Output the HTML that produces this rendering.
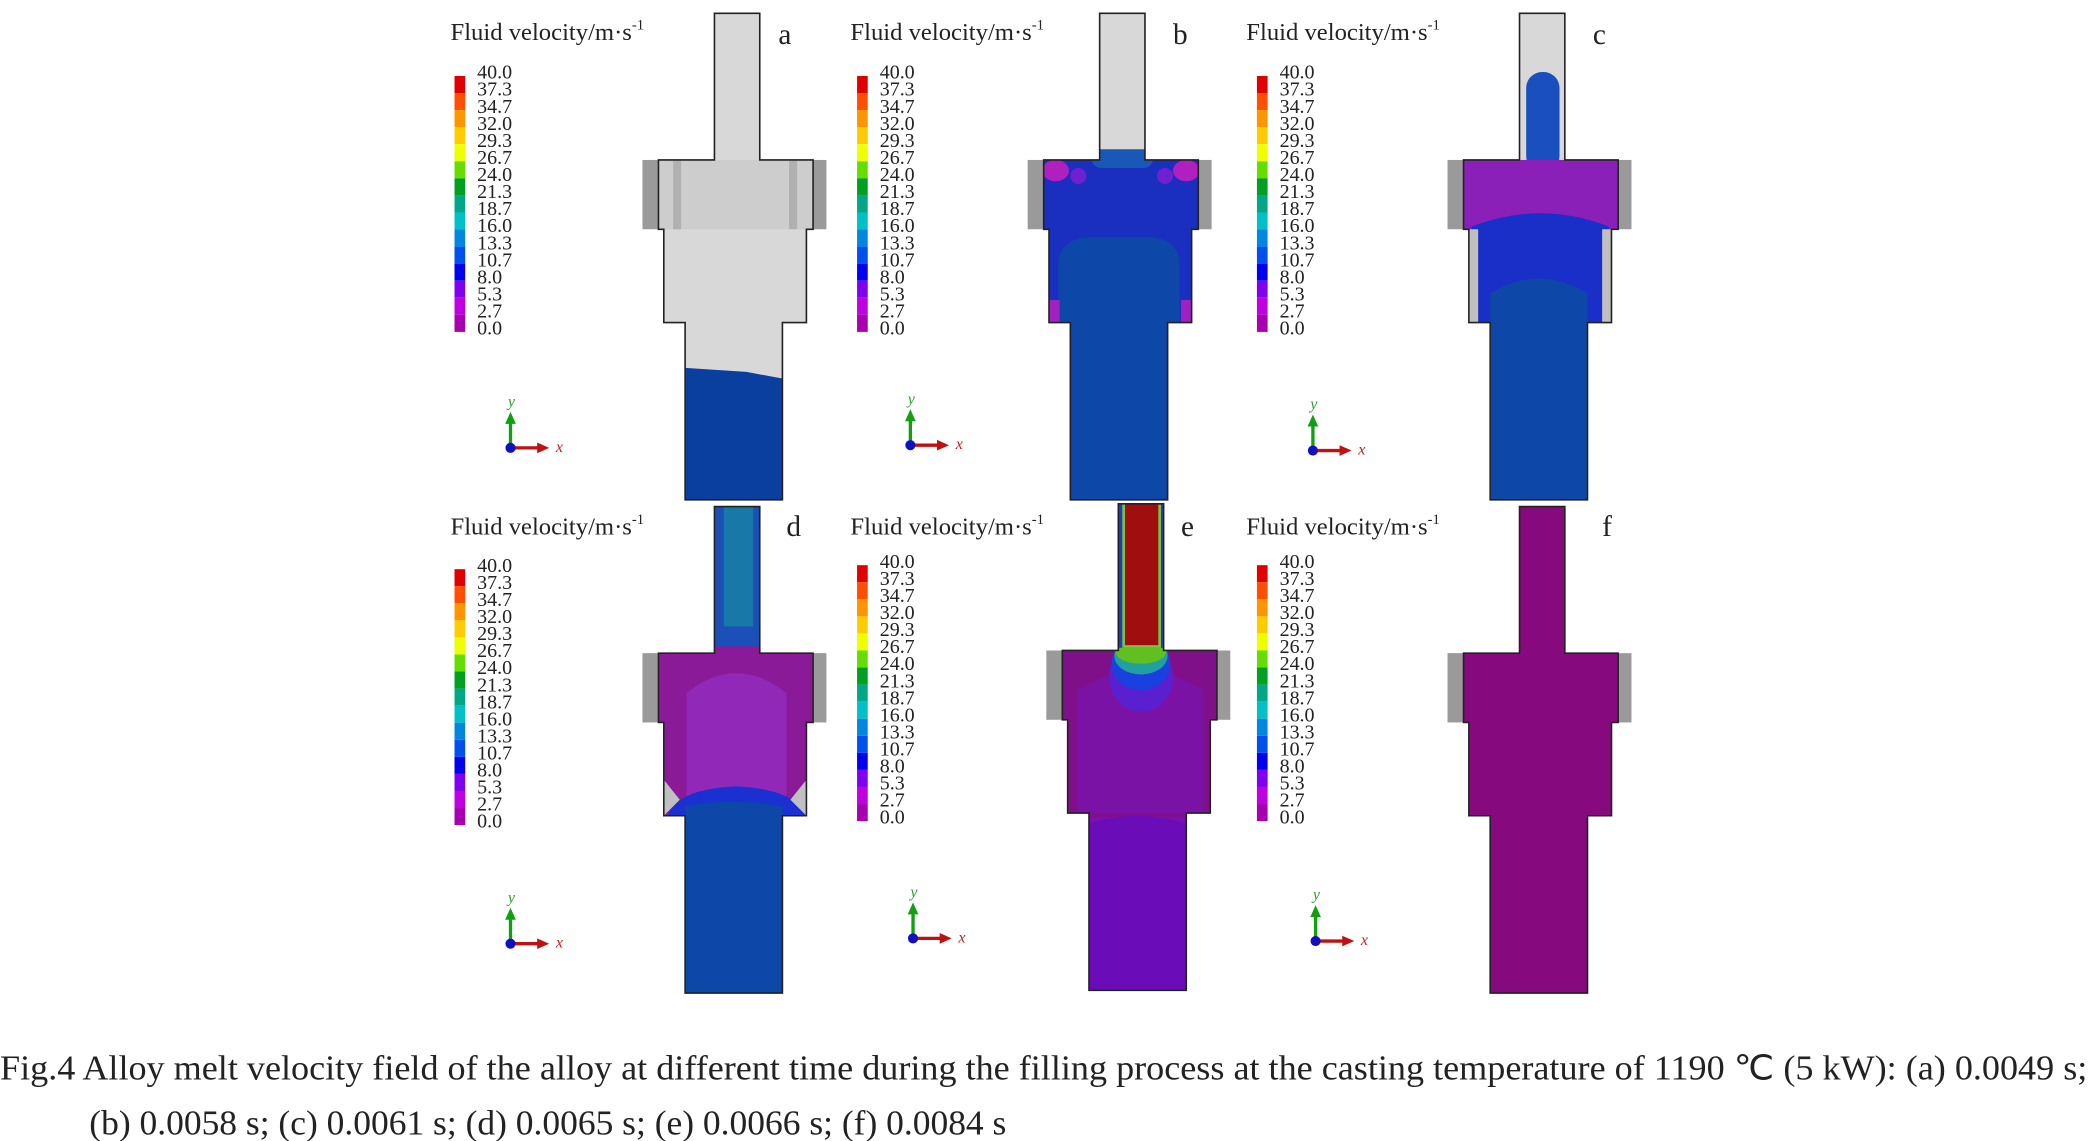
<!DOCTYPE html>
<html><head><meta charset="utf-8"><style>
html,body{margin:0;padding:0;background:#fff;}
svg{display:block;}
text{font-family:"Liberation Serif",serif;fill:#222;}
</style></head><body>
<svg width="2090" height="1141" viewBox="0 0 1568 856" preserveAspectRatio="none" xmlns="http://www.w3.org/2000/svg">
<defs>
<path id="body" d="M536 10 H570 V120 H610 V172 H605 V242 H587 V375 H514 V242 H498 V172 H494 V120 H536 Z"/>
<clipPath id="cl"><use href="#body"/></clipPath>
<g id="cbar">
<rect x="0" y="0" width="8" height="12.8" fill="#e00000"/>
<rect x="0" y="12.8" width="8" height="12.8" fill="#ff5000"/>
<rect x="0" y="25.6" width="8" height="12.8" fill="#ff9500"/>
<rect x="0" y="38.4" width="8" height="12.8" fill="#ffcc00"/>
<rect x="0" y="51.2" width="8" height="12.8" fill="#eeff00"/>
<rect x="0" y="64" width="8" height="12.8" fill="#66dd00"/>
<rect x="0" y="76.8" width="8" height="12.8" fill="#00a020"/>
<rect x="0" y="89.6" width="8" height="12.8" fill="#00a888"/>
<rect x="0" y="102.4" width="8" height="12.8" fill="#00c0c8"/>
<rect x="0" y="115.2" width="8" height="12.8" fill="#0088e0"/>
<rect x="0" y="128" width="8" height="12.8" fill="#0050f0"/>
<rect x="0" y="140.8" width="8" height="12.8" fill="#0000f0"/>
<rect x="0" y="153.6" width="8" height="12.8" fill="#8000f0"/>
<rect x="0" y="166.4" width="8" height="12.8" fill="#c000e0"/>
<rect x="0" y="179.2" width="8" height="12.8" fill="#a800b0"/>
</g>
<g id="axes">
<line x1="0" y1="0" x2="0" y2="-20" stroke="#10a010" stroke-width="2.5"/>
<polygon points="-4,-18 4,-18 0,-27" fill="#10a010"/>
<line x1="0" y1="0" x2="22" y2="0" stroke="#c01010" stroke-width="2.5"/>
<polygon points="20,-4 20,4 29,0" fill="#c01010"/>
<circle cx="0" cy="0" r="3.8" fill="#1010c0"/>
<text x="-2" y="-31" style="font-style:italic;font-size:12px;fill:#30a030">y</text>
<text x="34" y="3" style="font-style:italic;font-size:12px;fill:#c02020">x</text>
</g>
<g id="flanges">
<rect x="482" y="120" width="12" height="52" fill="#9a9a9a"/>
<rect x="610" y="120" width="10" height="52" fill="#9a9a9a"/>
</g>
</defs>

<!-- Legends -->
<g font-size="18.5">
<text x="338" y="30">Fluid velocity/m·s<tspan dy="-8" font-size="11">-1</tspan></text>
<text x="638" y="30">Fluid velocity/m·s<tspan dy="-8" font-size="11">-1</tspan></text>
<text x="935" y="30">Fluid velocity/m·s<tspan dy="-8" font-size="11">-1</tspan></text>
<text x="338" y="401">Fluid velocity/m·s<tspan dy="-8" font-size="11">-1</tspan></text>
<text x="638" y="401">Fluid velocity/m·s<tspan dy="-8" font-size="11">-1</tspan></text>
<text x="935" y="401">Fluid velocity/m·s<tspan dy="-8" font-size="11">-1</tspan></text>
</g>
<use href="#cbar" x="341" y="57"/>
<use href="#cbar" x="643" y="57"/>
<use href="#cbar" x="943" y="57"/>
<use href="#cbar" x="341" y="427"/>
<use href="#cbar" x="643" y="424"/>
<use href="#cbar" x="943" y="424"/>
<g font-size="15">
<text x="358" y="59"><tspan x="358">40.0</tspan><tspan x="358" dy="12.8">37.3</tspan><tspan x="358" dy="12.8">34.7</tspan><tspan x="358" dy="12.8">32.0</tspan><tspan x="358" dy="12.8">29.3</tspan><tspan x="358" dy="12.8">26.7</tspan><tspan x="358" dy="12.8">24.0</tspan><tspan x="358" dy="12.8">21.3</tspan><tspan x="358" dy="12.8">18.7</tspan><tspan x="358" dy="12.8">16.0</tspan><tspan x="358" dy="12.8">13.3</tspan><tspan x="358" dy="12.8">10.7</tspan><tspan x="358" dy="12.8">8.0</tspan><tspan x="358" dy="12.8">5.3</tspan><tspan x="358" dy="12.8">2.7</tspan><tspan x="358" dy="12.8">0.0</tspan></text>
<text x="660" y="59"><tspan x="660">40.0</tspan><tspan x="660" dy="12.8">37.3</tspan><tspan x="660" dy="12.8">34.7</tspan><tspan x="660" dy="12.8">32.0</tspan><tspan x="660" dy="12.8">29.3</tspan><tspan x="660" dy="12.8">26.7</tspan><tspan x="660" dy="12.8">24.0</tspan><tspan x="660" dy="12.8">21.3</tspan><tspan x="660" dy="12.8">18.7</tspan><tspan x="660" dy="12.8">16.0</tspan><tspan x="660" dy="12.8">13.3</tspan><tspan x="660" dy="12.8">10.7</tspan><tspan x="660" dy="12.8">8.0</tspan><tspan x="660" dy="12.8">5.3</tspan><tspan x="660" dy="12.8">2.7</tspan><tspan x="660" dy="12.8">0.0</tspan></text>
<text x="960" y="59"><tspan x="960">40.0</tspan><tspan x="960" dy="12.8">37.3</tspan><tspan x="960" dy="12.8">34.7</tspan><tspan x="960" dy="12.8">32.0</tspan><tspan x="960" dy="12.8">29.3</tspan><tspan x="960" dy="12.8">26.7</tspan><tspan x="960" dy="12.8">24.0</tspan><tspan x="960" dy="12.8">21.3</tspan><tspan x="960" dy="12.8">18.7</tspan><tspan x="960" dy="12.8">16.0</tspan><tspan x="960" dy="12.8">13.3</tspan><tspan x="960" dy="12.8">10.7</tspan><tspan x="960" dy="12.8">8.0</tspan><tspan x="960" dy="12.8">5.3</tspan><tspan x="960" dy="12.8">2.7</tspan><tspan x="960" dy="12.8">0.0</tspan></text>
<text x="358" y="429"><tspan x="358">40.0</tspan><tspan x="358" dy="12.8">37.3</tspan><tspan x="358" dy="12.8">34.7</tspan><tspan x="358" dy="12.8">32.0</tspan><tspan x="358" dy="12.8">29.3</tspan><tspan x="358" dy="12.8">26.7</tspan><tspan x="358" dy="12.8">24.0</tspan><tspan x="358" dy="12.8">21.3</tspan><tspan x="358" dy="12.8">18.7</tspan><tspan x="358" dy="12.8">16.0</tspan><tspan x="358" dy="12.8">13.3</tspan><tspan x="358" dy="12.8">10.7</tspan><tspan x="358" dy="12.8">8.0</tspan><tspan x="358" dy="12.8">5.3</tspan><tspan x="358" dy="12.8">2.7</tspan><tspan x="358" dy="12.8">0.0</tspan></text>
<text x="660" y="426"><tspan x="660">40.0</tspan><tspan x="660" dy="12.8">37.3</tspan><tspan x="660" dy="12.8">34.7</tspan><tspan x="660" dy="12.8">32.0</tspan><tspan x="660" dy="12.8">29.3</tspan><tspan x="660" dy="12.8">26.7</tspan><tspan x="660" dy="12.8">24.0</tspan><tspan x="660" dy="12.8">21.3</tspan><tspan x="660" dy="12.8">18.7</tspan><tspan x="660" dy="12.8">16.0</tspan><tspan x="660" dy="12.8">13.3</tspan><tspan x="660" dy="12.8">10.7</tspan><tspan x="660" dy="12.8">8.0</tspan><tspan x="660" dy="12.8">5.3</tspan><tspan x="660" dy="12.8">2.7</tspan><tspan x="660" dy="12.8">0.0</tspan></text>
<text x="960" y="426"><tspan x="960">40.0</tspan><tspan x="960" dy="12.8">37.3</tspan><tspan x="960" dy="12.8">34.7</tspan><tspan x="960" dy="12.8">32.0</tspan><tspan x="960" dy="12.8">29.3</tspan><tspan x="960" dy="12.8">26.7</tspan><tspan x="960" dy="12.8">24.0</tspan><tspan x="960" dy="12.8">21.3</tspan><tspan x="960" dy="12.8">18.7</tspan><tspan x="960" dy="12.8">16.0</tspan><tspan x="960" dy="12.8">13.3</tspan><tspan x="960" dy="12.8">10.7</tspan><tspan x="960" dy="12.8">8.0</tspan><tspan x="960" dy="12.8">5.3</tspan><tspan x="960" dy="12.8">2.7</tspan><tspan x="960" dy="12.8">0.0</tspan></text>
</g>
<use href="#axes" x="383" y="336"/>
<use href="#axes" x="683" y="334"/>
<use href="#axes" x="985" y="338"/>
<use href="#axes" x="383" y="708"/>
<use href="#axes" x="685" y="704"/>
<use href="#axes" x="987" y="706"/>

<!-- Panel a -->
<g>
<use href="#flanges"/>
<g clip-path="url(#cl)">
<rect x="480" y="0" width="140" height="380" fill="#d8d8d8"/>
<rect x="480" y="120" width="140" height="52" fill="#cdcdcd"/>
<rect x="505" y="120" width="6" height="52" fill="#b0b0b0"/>
<rect x="592" y="120" width="6" height="52" fill="#b0b0b0"/>
<polygon points="514,276 560,279 587,284 587,380 514,380" fill="#0a3fa0"/>
</g>
<use href="#body" fill="none" stroke="#222" stroke-width="1.2"/>
</g>
<text x="584" y="33" font-size="22">a</text>

<!-- Panel b -->
<g transform="translate(289,0)">
<use href="#flanges"/>
<g clip-path="url(#cl)">
<rect x="480" y="0" width="140" height="380" fill="#d8d8d8"/>
<rect x="480" y="115" width="140" height="265" fill="#1a2ec0"/>
<rect x="530" y="112" width="46" height="14" rx="7" fill="#1a58b8"/>
<path d="M505 380 V200 Q505 178 530 178 H572 Q596 178 596 200 V380 Z" fill="#0d47a8"/>
<ellipse cx="503" cy="128" rx="10" ry="8" fill="#b020c0"/>
<ellipse cx="601" cy="128" rx="10" ry="8" fill="#b020c0"/>
<circle cx="520" cy="132" r="6" fill="#7020d0"/>
<circle cx="585" cy="132" r="6" fill="#7020d0"/>
<rect x="498" y="225" width="8" height="17" fill="#a020c0"/>
<rect x="597" y="225" width="8" height="17" fill="#a020c0"/>
</g>
<use href="#body" fill="none" stroke="#222" stroke-width="1.2"/>
</g>
<text x="880" y="33" font-size="22">b</text>

<!-- Panel c -->
<g transform="translate(604,0)">
<use href="#flanges"/>
<g clip-path="url(#cl)">
<rect x="480" y="0" width="140" height="380" fill="#d8d8d8"/>
<rect x="541" y="54" width="25" height="75" rx="12" fill="#1a4fc0"/>
<rect x="480" y="120" width="140" height="60" fill="#8a20b8"/>
<path d="M500 242 V170 Q552 150 603 170 V242 Z" fill="#1a2ec8"/>
<path d="M514 380 V220 Q550 198 587 220 V380 Z" fill="#0d47a8"/>
<rect x="498" y="172" width="7" height="70" fill="#c0c0c0"/>
<rect x="598" y="172" width="7" height="70" fill="#c0c0c0"/>
</g>
<use href="#body" fill="none" stroke="#222" stroke-width="1.2"/>
</g>
<text x="1195" y="33" font-size="22">c</text>

<!-- Panel d -->
<g transform="translate(0,370)">
<use href="#flanges"/>
<g clip-path="url(#cl)">
<rect x="480" y="0" width="140" height="380" fill="#1a50b8"/>
<rect x="543" y="10" width="22" height="90" fill="#1878a8"/>
<rect x="480" y="115" width="140" height="130" fill="#8a1a98"/>
<path d="M515 235 V150 Q552 120 590 150 V235 Z" fill="#9228b8"/>
<path d="M500 245 Q505 222 552 220 Q600 222 605 245 V250 H500 Z" fill="#1a30d0"/>
<path d="M498 215 L510 230 L498 242 Z" fill="#c0c0c0"/>
<path d="M605 215 L593 230 L605 242 Z" fill="#c0c0c0"/>
<path d="M514 380 V235 Q550 228 587 235 V380 Z" fill="#0d47a8"/>
</g>
<use href="#body" fill="none" stroke="#222" stroke-width="1.2"/>
</g>
<text x="590" y="402" font-size="22">d</text>

<!-- Panel e -->
<g transform="translate(303,368)">
<use href="#flanges"/>
<g clip-path="url(#cl)">
<rect x="480" y="0" width="140" height="380" fill="#7a10b4"/>
<rect x="480" y="115" width="140" height="130" fill="#80108a"/>
<path d="M505 242 V150 Q552 120 600 150 V242 Z" fill="#7a12a6"/>
<ellipse cx="553" cy="140" rx="24" ry="26" fill="#5a20d0"/>
<ellipse cx="553" cy="130" rx="22" ry="20" fill="#1a40e0"/>
<ellipse cx="553" cy="124" rx="20" ry="14" fill="#20a0a0"/>
<ellipse cx="553" cy="121" rx="19" ry="9" fill="#60c020"/>
<rect x="480" y="0" width="140" height="118" fill="#1a40c0"/>
<rect x="539" y="0" width="29" height="118" fill="#80c040"/>
<rect x="541" y="0" width="25" height="116" fill="#a00e10"/>
<path d="M514 380 V250 Q550 238 587 250 V380 Z" fill="#6a0cb8"/>
</g>
<use href="#body" fill="none" stroke="#222" stroke-width="1.2"/>
</g>
<text x="886" y="402" font-size="22">e</text>

<!-- Panel f -->
<g transform="translate(604,370)">
<use href="#flanges"/>
<g clip-path="url(#cl)">
<rect x="480" y="0" width="140" height="380" fill="#860a7e"/>
</g>
<use href="#body" fill="none" stroke="#222" stroke-width="1.2"/>
</g>
<text x="1202" y="402" font-size="22">f</text>

<!-- Caption -->
<text x="0" y="810" font-size="26" textLength="1566" lengthAdjust="spacingAndGlyphs">Fig.4  Alloy melt velocity field of the alloy at different time during the filling process at the casting temperature of 1190 ℃ (5 kW): (a) 0.0049 s;</text>
<text x="67" y="851" font-size="26" textLength="688" lengthAdjust="spacingAndGlyphs">(b) 0.0058 s; (c) 0.0061 s; (d) 0.0065 s; (e) 0.0066 s; (f) 0.0084 s</text>
</svg>
</body></html>
